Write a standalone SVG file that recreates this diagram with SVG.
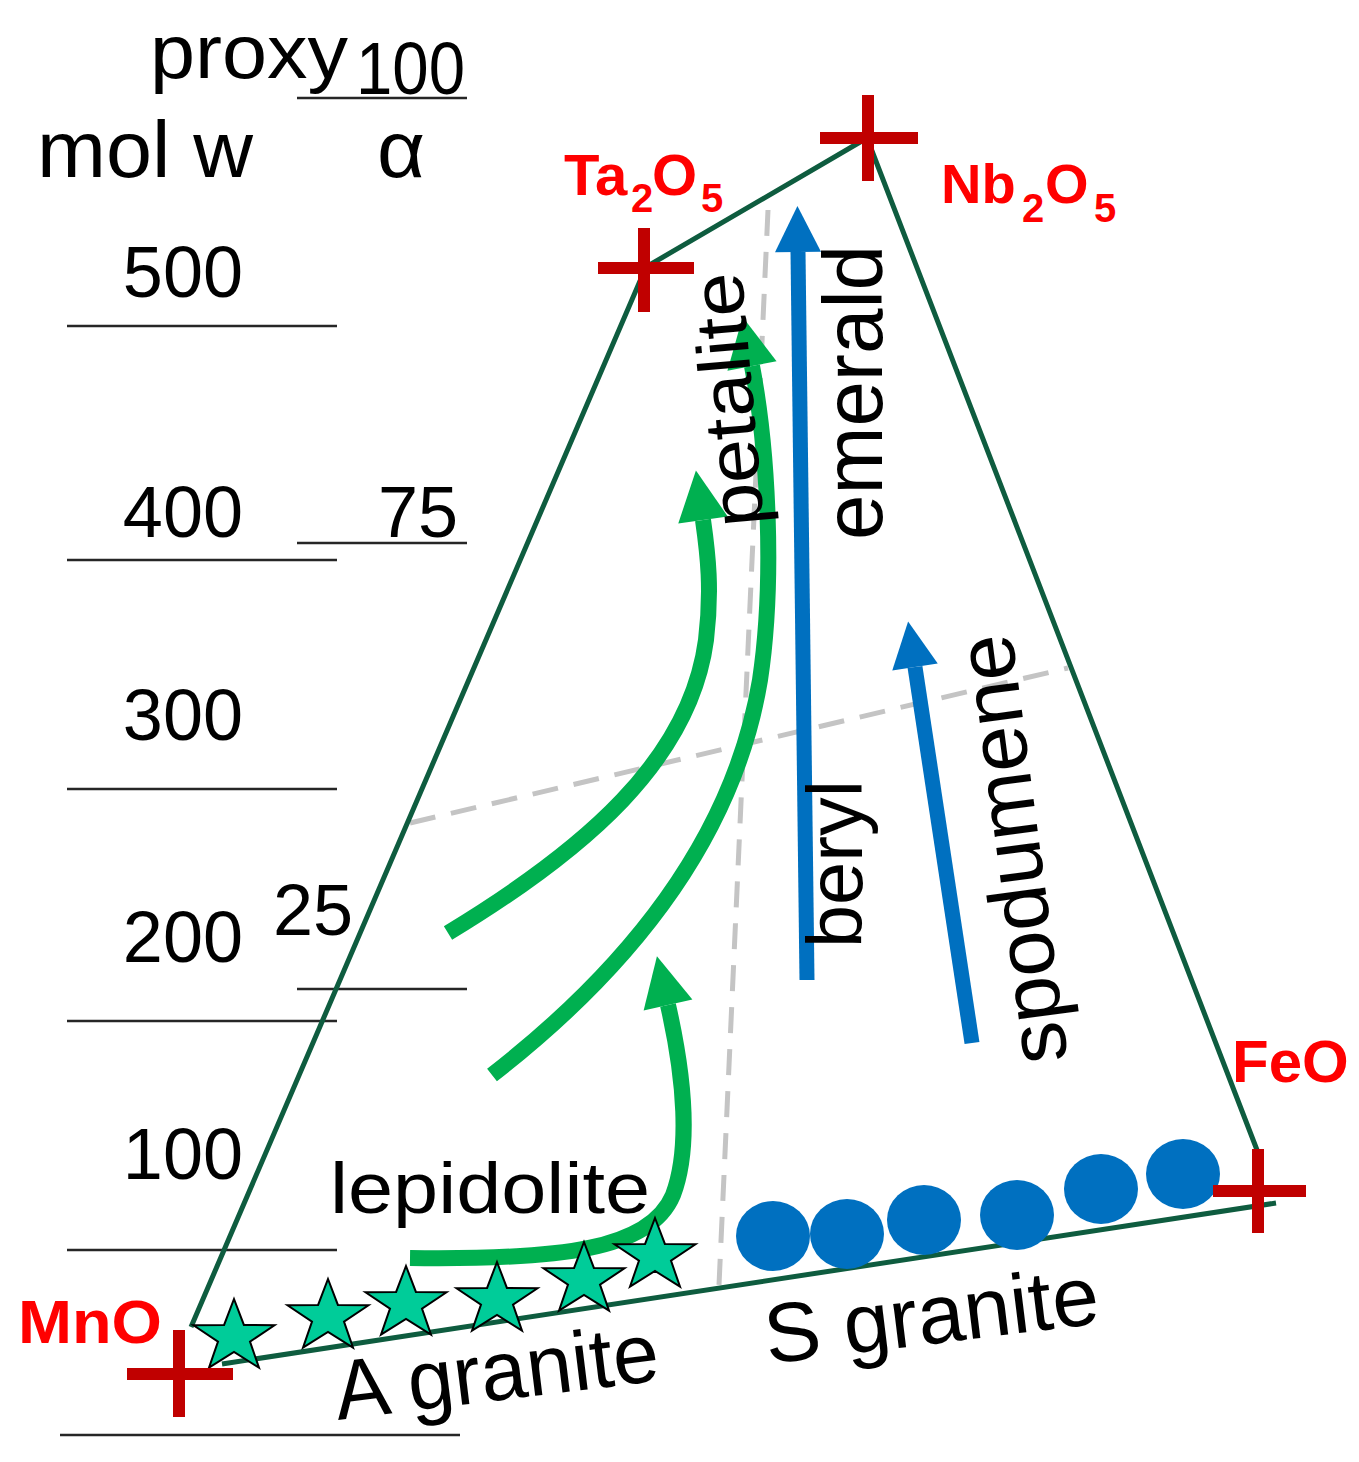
<svg xmlns="http://www.w3.org/2000/svg" xmlns:xlink="http://www.w3.org/1999/xlink" width="1359" height="1462" viewBox="0 0 1359 1462">
<style>
.t{font-family:"Liberation Sans",Arial,sans-serif;fill:#000}
.lbl{font-family:"Liberation Sans",Arial,sans-serif;font-weight:bold;fill:#ff0000}
.ax{stroke:#262626;stroke-width:2.5;fill:none}
.dash{stroke:#c4c4c4;stroke-width:5;stroke-dasharray:26 16;fill:none}
.edge{stroke:#0e5c3f;stroke-width:5;fill:none;stroke-linejoin:miter}
.g{stroke:#00b050;stroke-width:16;fill:none}
.b{stroke:#0070c0;stroke-width:15;fill:none}
.cross{stroke:#c00000;stroke-width:12;fill:none}
.star{fill:#00cc99;stroke:#000;stroke-width:2}
.dot{fill:#0070c0}
</style>
<defs>
<marker id="gh" markerUnits="userSpaceOnUse" markerWidth="60" markerHeight="60" refX="0" refY="25" orient="auto" overflow="visible">
<path d="M0,0 L50,25 L0,50 Z" fill="#00b050"/>
</marker>
<marker id="bh" markerUnits="userSpaceOnUse" markerWidth="60" markerHeight="60" refX="0" refY="23" orient="auto" overflow="visible">
<path d="M0,0 L46,23 L0,46 Z" fill="#0070c0"/>
</marker>
<polygon id="st" class="star" points="0,-38 9.9,-12.1 40.5,-11.7 16,4.6 25,30.7 0,15 -25,30.7 -16,4.6 -40.5,-11.7 -9.9,-12.1"/>
</defs>

<g id="axis">
<line class="ax" x1="297" y1="98" x2="467" y2="98"/>
<line class="ax" x1="67" y1="326" x2="337" y2="326"/>
<line class="ax" x1="297" y1="543" x2="467" y2="543"/>
<line class="ax" x1="67" y1="560" x2="337" y2="560"/>
<line class="ax" x1="67" y1="789" x2="337" y2="789"/>
<line class="ax" x1="297" y1="989" x2="467" y2="989"/>
<line class="ax" x1="67" y1="1021" x2="337" y2="1021"/>
<line class="ax" x1="67" y1="1250" x2="337" y2="1250"/>
<line class="ax" x1="60" y1="1435" x2="460" y2="1435"/>
<text class="t" x="150" y="78" font-size="76" textLength="198" lengthAdjust="spacingAndGlyphs">proxy</text>
<text class="t" x="356" y="94" font-size="74" textLength="109" lengthAdjust="spacingAndGlyphs">100</text>
<text class="t" x="37" y="177" font-size="80" textLength="216" lengthAdjust="spacingAndGlyphs">mol w</text>
<text class="t" x="377" y="177" font-size="80" textLength="48" lengthAdjust="spacingAndGlyphs">α</text>
<text class="t" x="243" y="297" font-size="72" text-anchor="end">500</text>
<text class="t" x="243" y="537" font-size="72" text-anchor="end">400</text>
<text class="t" x="458" y="537" font-size="72" text-anchor="end">75</text>
<text class="t" x="243" y="740" font-size="72" text-anchor="end">300</text>
<text class="t" x="243" y="962" font-size="72" text-anchor="end">200</text>
<text class="t" x="353" y="935" font-size="72" text-anchor="end">25</text>
<text class="t" x="243" y="1179" font-size="72" text-anchor="end">100</text>
</g>

<g id="grid">
<line class="dash" x1="768" y1="210" x2="719" y2="1285"/>
<line class="dash" x1="410" y1="823" x2="1068" y2="668"/>
</g>

<g id="diagram-edges">
<polyline class="edge" points="1276,1203 222,1364"/>
<polyline class="edge" points="191,1327 646,267 867,138 1257,1150"/>
</g>

<g id="connectors">
<path class="g" d="M448,933 C585,850 690,760 706,640 C712,590 708,555 703,520" marker-end="url(#gh)"/>
<path class="g" d="M492,1075 C640,960 735,830 760,680 C775,580 768,450 752,366" marker-end="url(#gh)"/>
<path class="g" d="M410,1258 C560,1260 650,1250 673,1195 C690,1150 685,1080 668,1005" marker-end="url(#gh)"/>
<path class="b" d="M807,980 L798,252" marker-end="url(#bh)"/>
<path class="b" d="M972,1043 L915,667" marker-end="url(#bh)"/>
</g>

<g id="s-granite-points">
<ellipse class="dot" cx="773" cy="1236" rx="37" ry="35"/>
<ellipse class="dot" cx="847" cy="1234" rx="37" ry="35"/>
<ellipse class="dot" cx="924" cy="1220" rx="37" ry="35"/>
<ellipse class="dot" cx="1017" cy="1215" rx="37" ry="35"/>
<ellipse class="dot" cx="1101" cy="1189" rx="37" ry="35"/>
<ellipse class="dot" cx="1183" cy="1174" rx="37" ry="35"/>
</g>

<g id="a-granite-points">
<use xlink:href="#st" href="#st" x="234" y="1337"/>
<use xlink:href="#st" href="#st" x="328" y="1317"/>
<use xlink:href="#st" href="#st" x="406" y="1304"/>
<use xlink:href="#st" href="#st" x="497" y="1300"/>
<use xlink:href="#st" href="#st" x="584" y="1280"/>
<use xlink:href="#st" href="#st" x="655" y="1256"/>
</g>

<g id="node-Nb2O5">
<path class="cross" d="M820,138 H918 M868,95 V181"/>
<text class="lbl" y="203"><tspan x="941" font-size="56">Nb</tspan><tspan x="1022" y="222" font-size="40">2</tspan><tspan x="1045" y="203" font-size="56">O</tspan><tspan x="1094" y="222" font-size="40">5</tspan></text>
</g>
<g id="node-Ta2O5">
<path class="cross" d="M598,268 H694 M644,228 V312"/>
<text class="lbl" y="195"><tspan x="564" font-size="58">Ta</tspan><tspan x="631" y="212" font-size="40">2</tspan><tspan x="652" y="195" font-size="58">O</tspan><tspan x="701" y="212" font-size="40">5</tspan></text>
</g>
<g id="node-MnO">
<path class="cross" d="M127,1374 H233 M179,1330 V1417"/>
<text class="lbl" x="18" y="1343" font-size="61" textLength="144" lengthAdjust="spacingAndGlyphs">MnO</text>
</g>
<g id="node-FeO">
<path class="cross" d="M1213,1191 H1306 M1258,1149 V1233"/>
<text class="lbl" x="1232" y="1082" font-size="60">FeO</text>
</g>

<g id="labels">
<text class="t" x="330" y="1213" font-size="72" textLength="320" lengthAdjust="spacingAndGlyphs">lepidolite</text>
<text class="t" font-size="84" textLength="326" lengthAdjust="spacingAndGlyphs" transform="translate(338,1420) rotate(-7)">A granite</text>
<text class="t" font-size="84" textLength="336" lengthAdjust="spacingAndGlyphs" transform="translate(768,1364) rotate(-7)">S granite</text>
<text class="t" font-size="73" textLength="255" lengthAdjust="spacingAndGlyphs" transform="translate(764,525) rotate(-95)">petalite</text>
<text class="t" font-size="83" textLength="295" lengthAdjust="spacingAndGlyphs" transform="translate(882,540) rotate(-90)">emerald</text>
<text class="t" font-size="78" textLength="168" lengthAdjust="spacingAndGlyphs" transform="translate(862,948) rotate(-90)">beryl</text>
<text class="t" font-size="82" textLength="432" lengthAdjust="spacingAndGlyphs" transform="translate(1068,1060) rotate(-97.5)">spodumene</text>
</g>
</svg>
